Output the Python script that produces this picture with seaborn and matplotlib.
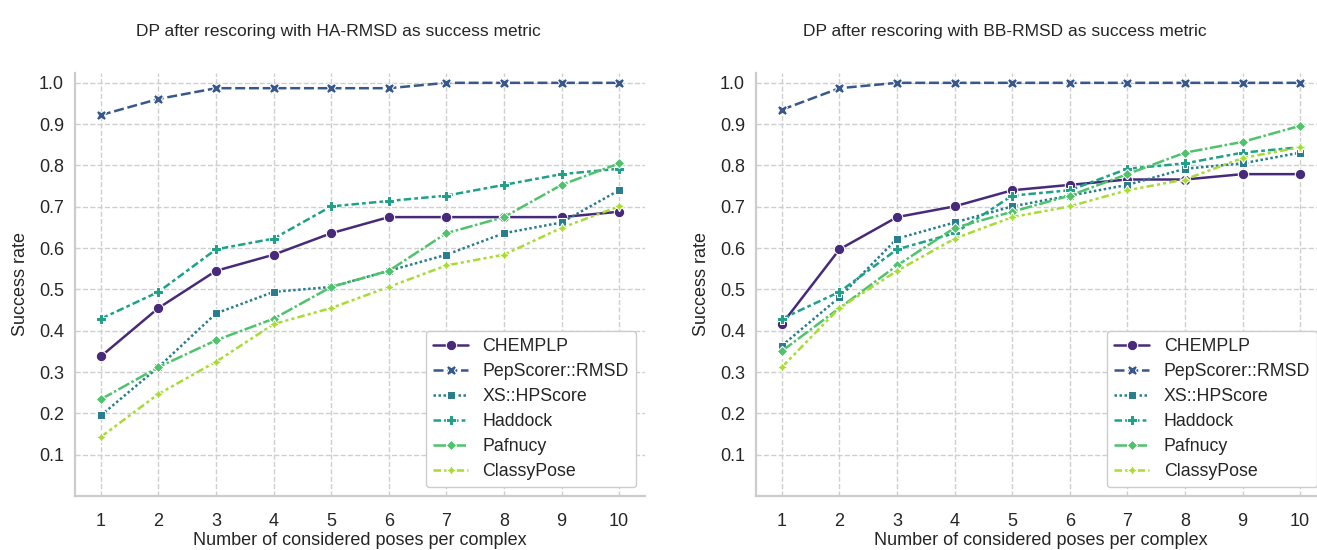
import numpy as np
import pandas as pd
import matplotlib
matplotlib.use("Agg")
import matplotlib.pyplot as plt
import seaborn as sns

# ---------------- data ----------------
poses = [1, 2, 3, 4, 5, 6, 7, 8, 9, 10]
methods = ["CHEMPLP", "PepScorer::RMSD", "XS::HPScore", "Haddock", "Pafnucy", "ClassyPose"]

ha_chemplp = [0.338, 0.455, 0.545, 0.584, 0.636, 0.675, 0.675, 0.675, 0.675, 0.688]
ha_pepscorer = [0.922, 0.961, 0.987, 0.987, 0.987, 0.987, 1.0, 1.0, 1.0, 1.0]
ha_xs = [0.195, 0.312, 0.442, 0.494, 0.506, 0.545, 0.584, 0.636, 0.662, 0.740]
ha_haddock = [0.429, 0.494, 0.597, 0.623, 0.701, 0.714, 0.727, 0.753, 0.779, 0.792]
ha_pafnucy = [0.234, 0.312, 0.377, 0.429, 0.506, 0.545, 0.636, 0.675, 0.753, 0.805]
ha_classypose = [0.143, 0.247, 0.325, 0.416, 0.455, 0.506, 0.558, 0.584, 0.649, 0.701]

bb_chemplp = [0.416, 0.597, 0.675, 0.701, 0.740, 0.753, 0.766, 0.766, 0.779, 0.779]
bb_pepscorer = [0.935, 0.987, 1.0, 1.0, 1.0, 1.0, 1.0, 1.0, 1.0, 1.0]
bb_xs = [0.364, 0.481, 0.623, 0.662, 0.701, 0.727, 0.753, 0.792, 0.805, 0.831]
bb_haddock = [0.429, 0.494, 0.597, 0.636, 0.727, 0.740, 0.792, 0.805, 0.831, 0.844]
bb_pafnucy = [0.351, 0.455, 0.558, 0.649, 0.688, 0.727, 0.779, 0.831, 0.857, 0.896]
bb_classypose = [0.312, 0.455, 0.545, 0.623, 0.675, 0.701, 0.740, 0.766, 0.818, 0.844]

yticks = [0.1, 0.2, 0.3, 0.4, 0.5, 0.6, 0.7, 0.8, 0.9, 1.0]
titles = ["DP after rescoring with HA-RMSD as success metric",
          "DP after rescoring with BB-RMSD as success metric"]


def long_form(series):
    rows = []
    for m, vals in zip(methods, series):
        for x, v in zip(poses, vals):
            rows.append({"poses": x, "rate": v, "method": m})
    return pd.DataFrame(rows)


df_ha = long_form([ha_chemplp, ha_pepscorer, ha_xs, ha_haddock, ha_pafnucy, ha_classypose])
df_bb = long_form([bb_chemplp, bb_pepscorer, bb_xs, bb_haddock, bb_pafnucy, bb_classypose])

# ---------------- style ----------------
sns.set_theme(style="whitegrid", rc={
    "grid.linestyle": "--",
    "grid.color": "#cfcfcf",
    "grid.linewidth": 1.0,
    "axes.edgecolor": "#cccccc",
    "axes.linewidth": 1.6,
})
plt.rcParams["font.family"] = ["Liberation Sans", "DejaVu Sans"]

palette = [plt.cm.viridis(v) for v in [0.12, 0.27, 0.42, 0.57, 0.72, 0.87]]

fig = plt.figure(figsize=(13.17, 5.5), dpi=100)
ax1 = fig.add_axes([75 / 1317, 1 - 496 / 550, 570 / 1317, 423.5 / 550])
ax2 = fig.add_axes([756 / 1317, 1 - 496 / 550, 570 / 1317, 423.5 / 550])

FS = 12.5
for ax, df, title, tx in [(ax1, df_ha, titles[0], 0.462), (ax2, df_bb, titles[1], 0.437)]:
    sns.lineplot(data=df, x="poses", y="rate", hue="method", style="method",
                 hue_order=methods, style_order=methods, palette=palette,
                 markers=True, dashes=True, markersize=7.5, linewidth=1.8, ax=ax)
    ax.set_xlim(0.55, 10.45)
    ax.set_ylim(0.0, 1.025)
    ax.set_xticks(poses)
    ax.set_xticklabels([str(p) for p in poses], fontsize=FS + 0.5, color="#262626")
    ax.set_yticks(yticks)
    ax.set_yticklabels([f"{t:.1f}" for t in yticks], fontsize=FS + 0.5, color="#262626")
    ax.tick_params(axis="y", pad=8, length=0)
    ax.tick_params(axis="x", pad=12.5, length=0)
    ax.set_xlabel("Number of considered poses per complex", fontsize=FS + 0.5,
                  color="#262626", labelpad=1)
    ax.set_ylabel("Success rate", fontsize=FS + 0.5, color="#262626", labelpad=7)
    ax.set_title(title, fontsize=FS, color="#262626", pad=26, x=tx)
    sns.despine(ax=ax)
    handles, labels = ax.get_legend_handles_labels()
    ax.legend(handles, labels, loc="lower right", fontsize=FS + 0.3, frameon=True,
              edgecolor="#cccccc", framealpha=1.0, borderaxespad=0.5, labelspacing=0.45)

fig.savefig("out.png", dpi=100)
